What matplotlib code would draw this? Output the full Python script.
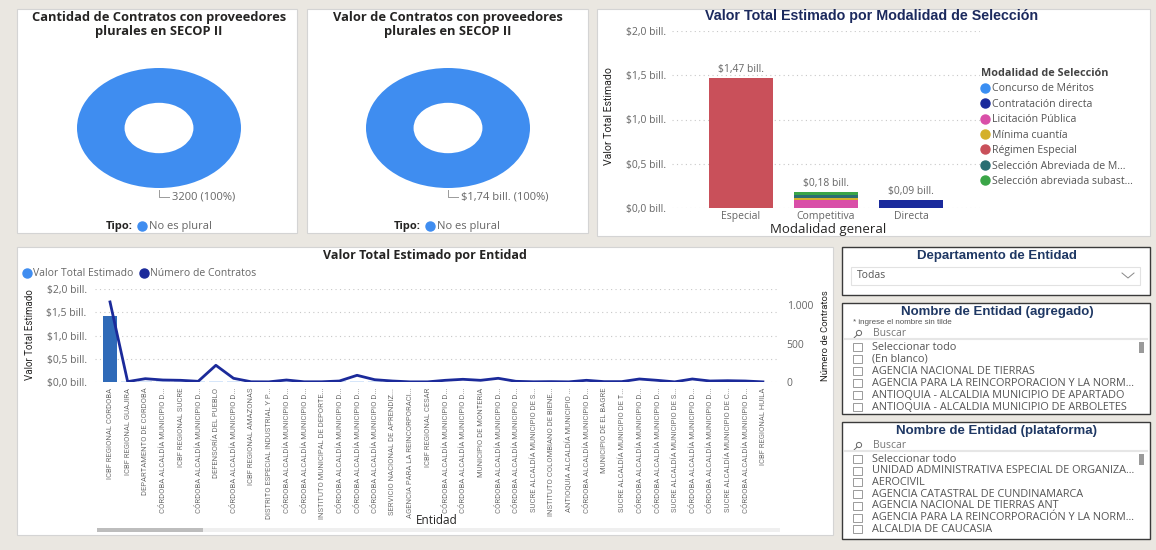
import matplotlib
matplotlib.use("Agg")
import matplotlib.pyplot as plt
from matplotlib.patches import Rectangle, Circle
from matplotlib.lines import Line2D
from matplotlib import font_manager
import numpy as np

W, H = 1156, 550

#donut data
tipo_labels = ["No es plural"]
contratos_tipo = [3200]
valor_tipo = [1.74]  # billones

#stacked bars by modalidad
modalidad_general = ["Especial", "Competitiva", "Directa"]
modalidades = ["Concurso de Méritos", "Contratación directa", "Licitación Pública",
               "Mínima cuantía", "Régimen Especial", "Selección Abreviada de M...",
               "Selección abreviada subast..."]
modalidad_colors = ["#3A8EF2", "#1A2A9C", "#D94FA8", "#D4B02A", "#C9505A", "#2A6E72", "#3AA547"]
valor_concurso = [0.0, 0.002, 0.0]
valor_directa = [0.0, 0.0, 0.09]
valor_licitacion = [0.0, 0.085, 0.0]
valor_minima = [0.0, 0.022, 0.0]
valor_regimen = [1.47, 0.0, 0.0]
valor_abreviada_m = [0.0, 0.041, 0.0]
valor_subasta = [0.0, 0.030, 0.0]

#entities (bottom chart)
entidades = [
    "ICBF REGIONAL CORDOBA", "ICBF REGIONAL GUAJIRA", "DEPARTAMENTO DE CORDOBA",
    "CÓRDOBA ALCALDÍA MUNICIPIO D...", "ICBF REGIONAL SUCRE", "CÓRDOBA ALCALDÍA MUNICIPIO D...",
    "DEFENSORÍA DEL PUEBLO", "CÓRDOBA ALCALDÍA MUNICIPIO D...", "ICBF REGIONAL AMAZONAS",
    "DISTRITO ESPECIAL INDUSTRIAL Y P...", "CÓRDOBA ALCALDÍA MUNICIPIO D...",
    "CÓRDOBA ALCALDÍA MUNICIPIO D...", "INSTITUTO MUNICIPAL DE DEPORTE...",
    "CÓRDOBA ALCALDÍA MUNICIPIO D...", "CÓRDOBA ALCALDÍA MUNICIPIO D...",
    "CÓRDOBA ALCALDÍA MUNICIPIO D...", "SERVICIO NACIONAL DE APRENDIZ...",
    "AGENCIA PARA LA REINCORPORACI...", "ICBF REGIONAL CESAR",
    "CÓRDOBA ALCALDÍA MUNICIPIO D...", "CÓRDOBA ALCALDÍA MUNICIPIO D...", "MUNICIPIO DE MONTERIA",
    "CÓRDOBA ALCALDÍA MUNICIPIO D...", "CÓRDOBA ALCALDÍA MUNICIPIO D...",
    "SUCRE ALCALDÍA MUNICIPIO DE S...", "INSTITUTO COLOMBIANO DE BIENE...",
    "ANTIOQUIA ALCALDÍA MUNICIPIO ...", "CÓRDOBA ALCALDÍA MUNICIPIO D...", "MUNICIPIO DE EL BAGRE",
    "SUCRE ALCALDÍA MUNICIPIO DE T...", "CÓRDOBA ALCALDÍA MUNICIPIO D...",
    "CÓRDOBA ALCALDÍA MUNICIPIO D...", "SUCRE ALCALDÍA MUNICIPIO DE S...",
    "CÓRDOBA ALCALDÍA MUNICIPIO D...", "CÓRDOBA ALCALDÍA MUNICIPIO D...",
    "SUCRE ALCALDÍA MUNICIPIO DE C...", "CÓRDOBA ALCALDÍA MUNICIPIO D...", "ICBF REGIONAL HUILA",
]
valor_entidad = [1.42, 0.026, 0.024, 0.022, 0.020, 0.019, 0.018, 0.017, 0.016, 0.015,
                 0.014, 0.014, 0.013, 0.013, 0.012, 0.012, 0.011, 0.011, 0.010, 0.010,
                 0.010, 0.009, 0.009, 0.009, 0.008, 0.008, 0.008, 0.007, 0.007, 0.007,
                 0.007, 0.006, 0.006, 0.006, 0.006, 0.005, 0.005, 0.005]
contratos_entidad = [1040, 5, 43, 26, 22, 9, 217, 48, 3, 2, 26, 3, 3, 13, 87, 30, 13, 2, 2,
                     22, 35, 22, 48, 9, 3, 5, 2, 22, 5, 5, 39, 22, 2, 39, 13, 17, 13, 2]

#slicers
departamento_sel = "Todas"
nombres_agregado = ["Seleccionar todo", "(En blanco)", "AGENCIA NACIONAL DE TIERRAS",
                    "AGENCIA PARA LA REINCORPORACION Y LA NORM...",
                    "ANTIOQUIA - ALCALDIA MUNICIPIO DE APARTADO",
                    "ANTIOQUIA - ALCALDIA MUNICIPIO DE ARBOLETES"]
nombres_plataforma = ["Seleccionar todo", "UNIDAD ADMINISTRATIVA ESPECIAL DE ORGANIZA...",
                      "AEROCIVIL", "AGENCIA CATASTRAL DE CUNDINAMARCA",
                      "AGENCIA NACIONAL DE TIERRAS ANT",
                      "AGENCIA PARA LA REINCORPORACIÓN Y LA NORM...", "ALCALDIA DE CAUCASIA"]

installed = {f.name for f in font_manager.fontManager.ttflist}
NARROW = "Liberation Sans Narrow" if "Liberation Sans Narrow" in installed else "Roboto"
plt.rcParams["font.family"] = ["Open Sans", "DejaVu Sans"]

BG = "#EAE7E1"
DONUT = "#3F8DF0"
GRAY = "#666666"
DARK = "#252423"
NAVY = "#1F3864"


def box(x0, y0, x1, y1):
    return [x0 / W, 1 - y1 / H, (x1 - x0) / W, (y1 - y0) / H]


def bill(v, dec=2):
    return "$" + f"{v:.{dec}f}".replace(".", ",") + " bill."


fig = plt.figure(figsize=(W / 100, H / 100), dpi=100)
fig.patch.set_facecolor(BG)

#canvas in pixel coords for panels and text
bg = fig.add_axes([0, 0, 1, 1])
bg.set_xlim(0, W)
bg.set_ylim(H, 0)
bg.axis("off")


def panel(x0, y0, x1, y1, edge="#D4D4D4", lw=0.8):
    bg.add_patch(Rectangle((x0, y0), x1 - x0, y1 - y0, facecolor="white", edgecolor=edge, lw=lw))


panel(17, 9, 297, 233)
panel(307, 9, 588, 233)
panel(597, 9, 1150, 236)
panel(17, 247, 833, 535)


def donut(cx, title, values, label_txt, tipo_x):
    bg.text(cx, 18, title[0], ha="center", va="center", fontsize=9.3, fontweight="bold", color=DARK)
    bg.text(cx, 32, title[1], ha="center", va="center", fontsize=9.3, fontweight="bold", color=DARK)
    ax = fig.add_axes(box(cx - 82, 68, cx + 82, 188))
    ax.pie(values, colors=[DONUT], startangle=90, counterclock=False,
           wedgeprops=dict(width=0.58, edgecolor="none"))
    ax.set_aspect("auto")
    ax.set_xlim(-1, 1)
    ax.set_ylim(-1, 1)
    ax.axis("off")
    bg.plot([cx, cx, cx + 10], [190, 197, 197], color="#9A9A9A", lw=0.7)
    bg.text(cx + 13, 197, label_txt, ha="left", va="center", fontsize=8, color=GRAY)
    bg.text(tipo_x, 227, "Tipo:", ha="right", va="center", fontsize=8, fontweight="bold", color=DARK)
    handles = [Line2D([], [], marker="o", linestyle="", color=DONUT, markersize=6.5)]
    fig.legend(handles, tipo_labels, loc="center left", bbox_to_anchor=((tipo_x + 5) / W, 1 - 227 / H),
               frameon=False, fontsize=8, labelcolor=GRAY, handlelength=0.8, handletextpad=0.2,
               borderpad=0, borderaxespad=0)


donut(159, ["Cantidad de Contratos con proveedores", "plurales en SECOP II"], contratos_tipo,
      f"{contratos_tipo[0]} ({contratos_tipo[0] / sum(contratos_tipo) * 100:.0f}%)", 133)
donut(448, ["Valor de Contratos con proveedores", "plurales en SECOP II"], valor_tipo,
      f"{bill(valor_tipo[0])} ({valor_tipo[0] / sum(valor_tipo) * 100:.0f}%)", 421)

#stacked bar chart by modalidad
ax3 = fig.add_axes(box(672, 31, 980, 208))
ax3.set_facecolor("none")
series = [valor_concurso, valor_directa, valor_licitacion, valor_minima,
          valor_regimen, valor_abreviada_m, valor_subasta]
xpos = np.arange(len(modalidad_general))
bottom = np.zeros(len(modalidad_general))
for vals, col in zip(series, modalidad_colors):
    ax3.bar(xpos, vals, width=0.76, bottom=bottom, color=col, zorder=3)
    bottom += np.array(vals)
for i, tot in enumerate(bottom):
    ax3.text(i, tot + 0.03, bill(tot), ha="center", va="bottom", fontsize=7.5, color=GRAY)
ax3.set_xlim(-0.81, 2.81)
ax3.set_ylim(0, 2.0)
ax3.set_yticks([0, 0.5, 1.0, 1.5, 2.0])
ax3.set_yticklabels([bill(v, 1) for v in [0, 0.5, 1.0, 1.5, 2.0]])
ax3.set_xticks(xpos)
ax3.set_xticklabels(modalidad_general)
ax3.tick_params(length=0, labelsize=7.5, labelcolor=GRAY)
ax3.tick_params(axis="y", pad=4)
ax3.tick_params(axis="x", pad=2)
ax3.yaxis.grid(True, linestyle=(0, (1, 3)), color="#C8C8C8", lw=0.8)
for s in ax3.spines.values():
    s.set_visible(False)
bg.text(872, 16, "Valor Total Estimado por Modalidad de Selección", ha="center", va="center",
        fontsize=10.3, fontweight="bold", color="#1C2A5E", family="Liberation Sans")
bg.text(828, 229, "Modalidad general", ha="center", va="center", fontsize=9.5, color=DARK)
bg.text(609, 116, "Valor Total Estimado", ha="center", va="center", rotation=90,
        fontsize=7.6, color=DARK, family=NARROW)
handles = [Line2D([], [], marker="o", linestyle="", color=c, markersize=6.5) for c in modalidad_colors]
leg = ax3.legend(handles, modalidades, title="Modalidad de Selección", loc="upper left",
                 bbox_to_anchor=(981 / W, 1 - 68 / H), bbox_transform=fig.transFigure,
                 frameon=False, fontsize=7.6, labelcolor="#555555", handlelength=0.8,
                 handletextpad=0.2, borderpad=0, borderaxespad=0, labelspacing=0.42,
                 alignment="left", title_fontproperties={"weight": "bold", "size": 7.8})
leg.get_title().set_color("#444444")

#bottom combo chart
ax4 = fig.add_axes(box(95, 289, 777, 382))
ax4.set_facecolor("none")
idx = np.arange(len(entidades))
bar_cols = ["#2F6AB8"] + ["#D6E6FA"] * (len(entidades) - 1)
ax4.bar(idx, valor_entidad, width=0.79, color=bar_cols, zorder=3)
ax4.set_xlim(-0.85, 37.8)
ax4.set_ylim(0, 2.0)
ax4.set_yticks([0, 0.5, 1.0, 1.5, 2.0])
ax4.set_yticklabels([bill(v, 1) for v in [0, 0.5, 1.0, 1.5, 2.0]])
ax4.set_xticks(idx)
ax4.set_xticklabels(entidades, rotation=90, fontsize=5.5, family=NARROW, color="#707070")
ax4.tick_params(length=0)
ax4.tick_params(axis="y", pad=6, labelsize=7.5, labelcolor=GRAY)
ax4.tick_params(axis="x", pad=4)
ax4.yaxis.grid(True, linestyle=(0, (1, 3)), color="#C8C8C8", lw=0.8)
for s in ax4.spines.values():
    s.set_visible(False)
ax5 = ax4.twinx()
ax5.plot(idx, contratos_entidad, color="#1B2A9A", lw=2, zorder=4)
ax5.set_ylim(0, 1208)
ax5.set_yticks([0, 500, 1000])
ax5.set_yticklabels([f"{v:,.0f}".replace(",", ".") for v in [0, 500, 1000]])
ax5.tick_params(length=0, pad=7, labelsize=7.5, labelcolor=GRAY)
for s in ax5.spines.values():
    s.set_visible(False)
bg.text(425, 255, "Valor Total Estimado por Entidad", ha="center", va="center",
        fontsize=9, fontweight="bold", color=DARK)
bg.text(30, 335, "Valor Total Estimado", ha="center", va="center", rotation=90,
        fontsize=7, color=DARK, family=NARROW)
bg.text(826, 336, "Número de Contratos", ha="center", va="center", rotation=90,
        fontsize=6.8, color=DARK, family=NARROW)
bg.text(437, 521, "Entidad", ha="center", va="center", fontsize=8.5, color=DARK)
handles = [Line2D([], [], marker="o", linestyle="", color=DONUT, markersize=6.5),
           Line2D([], [], marker="o", linestyle="", color="#1B2A9A", markersize=6.5)]
fig.legend(handles, ["Valor Total Estimado", "Número de Contratos"], loc="center left",
           bbox_to_anchor=(23 / W, 1 - 274 / H), ncol=2, frameon=False, fontsize=7.5,
           labelcolor=GRAY, handlelength=0.8, handletextpad=0.2, columnspacing=0.6,
           borderpad=0, borderaxespad=0)
#scrollbar
bg.add_patch(Rectangle((97, 528), 683, 4, facecolor="#EFEFEF", edgecolor="none"))
bg.add_patch(Rectangle((97, 528), 106, 4, facecolor="#BDBDBD", edgecolor="none"))

#slicers
TFONT = "Liberation Sans"
panel(842, 247, 1150, 295, edge="#3A3A3A", lw=1)
bg.text(997, 256, "Departamento de Entidad", ha="center", va="center", fontsize=9.5,
        fontweight="bold", color=NAVY, family=TFONT)
bg.add_patch(Rectangle((851, 267), 289, 18, facecolor="white", edgecolor="#E2E2E2", lw=0.8))
bg.text(857, 276, departamento_sel, ha="left", va="center", fontsize=7.5, color="#555555")
bg.plot([1122, 1128, 1134], [273, 278, 273], color="#888888", lw=0.7)


def list_slicer(y0, y1, title, items, y_first, step, note=None):
    panel(842, y0, 1150, y1, edge="#3A3A3A", lw=1)
    bg.text(997, y0 + 9, title, ha="center", va="center", fontsize=9.5, fontweight="bold",
            color=NAVY, family=TFONT)
    ys = y_first - 13
    if note:
        bg.text(853, y0 + 20, note, ha="left", va="center", fontsize=5.8, color="#555555", family=TFONT)
    bg.add_patch(Circle((859, ys - 1), 2.6, facecolor="none", edgecolor="#666666", lw=0.7))
    bg.plot([857, 854], [ys + 1, ys + 4], color="#666666", lw=0.7)
    bg.text(873, ys, "Buscar", ha="left", va="center", fontsize=7.5, color="#777777")
    bg.plot([845, 1147], [ys + 5, ys + 5], color="#E6E6E6", lw=1.5)
    for k, name in enumerate(items):
        y = y_first + k * step
        bg.add_patch(Rectangle((853, y - 4), 9, 8, facecolor="white", edgecolor="#8A8A8A", lw=0.6))
        bg.text(872, y, name, ha="left", va="center", fontsize=7.8, color="#555555")
    bg.add_patch(Rectangle((1139, ys + 8), 5, 11, facecolor="#9A9A9A", edgecolor="none"))


list_slicer(303, 414, "Nombre de Entidad (agregado)", nombres_agregado, 347, 12,
            note="* ingrese el nombre sin tilde")
list_slicer(422, 539, "Nombre de Entidad (plataforma)", nombres_plataforma, 459, 11.7)

fig.savefig("out.png", dpi=100, facecolor=BG)
